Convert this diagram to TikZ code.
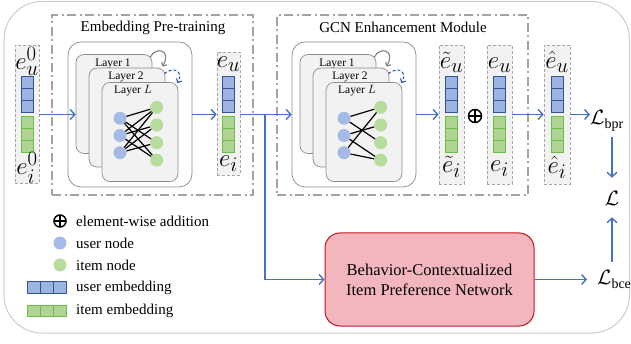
\documentclass[tikz,border=0pt]{standalone}
\usepackage{amsmath}
\usepackage{fontspec}
\setmainfont{Liberation Serif}
\usetikzlibrary{arrows.meta}
\definecolor{ablue}{HTML}{4472C4}
\definecolor{dblue}{HTML}{2F5DB4}
\definecolor{sqbf}{HTML}{9DB4E2}
\definecolor{sqbd}{HTML}{2F5597}
\definecolor{sqgf}{HTML}{AFD494}
\definecolor{sqgd}{HTML}{6CBF45}
\definecolor{unodef}{HTML}{A3BBE6}
\definecolor{inodef}{HTML}{B6DC9E}
\definecolor{colfill}{HTML}{F2F2F2}
\definecolor{colline}{HTML}{A6A6A6}
\definecolor{modline}{HTML}{A3A3A3}
\definecolor{cardline}{HTML}{8C8C8C}
\definecolor{frameline}{HTML}{CCCCCC}
\definecolor{pinkf}{HTML}{F4B6BE}
\definecolor{redd}{HTML}{C0141E}
\newcommand\te{e}
\newcommand\tu{u}
\newcommand\tii{i}
\newcommand\elab[1]{\fontsize{28}{28}\selectfont$#1$}
\newcommand\lfont{\fontsize{20}{20}\selectfont}
\tikzset{
  sqb/.style={draw=sqbd, fill=sqbf, line width=1pt, minimum width=12pt, minimum height=12.3pt, inner sep=0pt, outer sep=0pt},
  sqg/.style={draw=sqgd, fill=sqgf, line width=1pt, minimum width=12pt, minimum height=12.3pt, inner sep=0pt, outer sep=0pt},
  col/.style={draw=colline, fill=colfill, line width=0.7pt, dash pattern=on 3pt off 2pt, inner sep=0pt},
  modbox/.style={draw=modline, line width=1.8pt, dash pattern=on 9pt off 3.5pt on 2pt off 3.5pt, inner sep=0pt},
  card/.style={draw=cardline, fill=colfill, line width=0.7pt, rounded corners=8pt, minimum width=76pt, minimum height=99pt, inner sep=0pt},
  lbox/.style={draw=cardline, fill=white, line width=0.7pt, rounded corners=13pt, minimum width=124pt, minimum height=145pt, inner sep=0pt},
  ltext/.style={inner sep=0pt, font=\fontsize{11.5}{12}\selectfont},
  unode/.style={circle, fill=unodef, minimum size=13pt, inner sep=0pt},
  inode/.style={circle, fill=inodef, minimum size=13pt, inner sep=0pt},
  edge/.style={black, line width=1.2pt},
  arr/.style={ablue, line width=1.4pt, -{Straight Barb[length=4.5pt,width=10pt,line width=1.4pt]}},
  garr/.style={draw=gray, line width=1.1pt, -{Straight Barb[length=3pt,width=6pt,line width=1.1pt]}},
  darr/.style={draw=dblue, line width=1.1pt, dash pattern=on 3pt off 2pt, -{Straight Barb[length=3pt,width=6pt,line width=1.1pt]}},
  oplus/.style={circle, draw=black, line width=1.5pt, minimum size=12pt, inner sep=0pt,
    path picture={\draw[line width=1.5pt] (path picture bounding box.north) -- (path picture bounding box.south)
      (path picture bounding box.west) -- (path picture bounding box.east);}},
  txt/.style={inner sep=0pt, anchor=west},
  netbox/.style={draw=redd, fill=pinkf, line width=1pt, rounded corners=15pt, align=center, inner sep=0pt,
    font=\fontsize{16.5}{20}\selectfont},
  framebox/.style={draw=frameline, line width=1pt, rounded corners=38pt, inner sep=0pt}
}
\newcommand\embcol[2]{%
  \foreach \k/\yy in {1/82.2,2/94.5,3/106.8} {\node[sqb] (#1b\k) at (#2,\yy) {};}
  \foreach \k/\yy in {1/122.2,2/134.5,3/146.8} {\node[sqg] (#1g\k) at (#2,\yy) {};}
}
\newcommand\layerblock[3]{%
  \begin{scope}[xshift=#2]
    \node[lbox] (#1box) at (130,114.5) {};
    \node[card] (#1c1) at (114,104) {};
    \node[ltext] (#1t1) at (113,63.5) {Layer 1};
    \node[card] (#1c2) at (127,117.5) {};
    \node[ltext] (#1t2) at (126,77) {Layer 2};
    \node[card] (#1c3) at (140,132) {};
    \node[ltext] (#1t3) at (133,91) {Layer $L$};
    \foreach \k/\yy in {1/118.3,2/135.5,3/152.7} {\node[unode] (#1u\k) at (120,\yy) {};}
    \foreach \k/\yy in {1/107.3,2/125,3/142.7,4/160.2} {\node[inode] (#1v\k) at (156.7,\yy) {};}
    \foreach \a/\b in {#3} {\draw[edge] (#1u\a) -- (#1v\b);}
    \draw[garr] ([shift={(-2,3)}]#1c1.north east) .. controls +(5,-11) and +(10,-17) .. ([shift={(-3,-1)}]#1c2.north east);
    \draw[darr] ([shift={(-1,6)}]#1c2.north east) .. controls +(8,-7) and +(7,-13) .. ([shift={(-1,1)}]#1c3.north east);
  \end{scope}}
\begin{document}
\begin{tikzpicture}[x=1pt,y=-1pt,font=\fontsize{15}{18}\selectfont]
\useasboundingbox (0,0) rectangle (631,344);
\node[framebox, minimum width=625.5pt, minimum height=331.5pt] (frame) at (316.75,167.25) {};
% modules
\node[modbox, minimum width=201pt, minimum height=180pt] (pre) at (152.5,105) {};
\node[modbox, minimum width=251pt, minimum height=180pt] (gcn) at (402.5,105) {};
\node[inner sep=0pt] (pret) at (153,27.5) {Embedding Pre-training};
\node[inner sep=0pt] (gcnt) at (403,27.5) {GCN Enhancement Module};
% columns
\node[col, minimum width=24pt, minimum height=138pt] (c0) at (27,114) {};
\embcol{c0}{27}
\node[inner sep=0pt] (c0u) at (27,61) {\elab{\te^{0}_{\tu}}};
\node[inner sep=0pt] (c0i) at (27,168) {\elab{\te^{0}_{\tii}}};
\node[col, minimum width=23pt, minimum height=123pt] (c1) at (228.5,113.5) {};
\embcol{c1}{228.5}
\node[inner sep=0pt] (c1u) at (228.5,64) {\elab{\te_{\tu}}};
\node[inner sep=0pt] (c1i) at (228.5,164) {\elab{\te_{\tii}}};
\node[col, minimum width=25pt, minimum height=139pt] (c2) at (451.5,114.5) {};
\embcol{c2}{451.5}
\node[inner sep=0pt] (c2u) at (451.5,62) {\elab{\tilde{\te}_{\tu}}};
\node[inner sep=0pt] (c2i) at (451.5,167) {\elab{\tilde{\te}_{\tii}}};
\node[col, minimum width=25pt, minimum height=139pt] (c3) at (499.5,114.5) {};
\embcol{c3}{499.5}
\node[inner sep=0pt] (c3u) at (499.5,65) {\elab{\te_{\tu}}};
\node[inner sep=0pt] (c3i) at (499.5,169) {\elab{\te_{\tii}}};
\node[col, minimum width=26pt, minimum height=139pt] (c4) at (557,114.5) {};
\embcol{c4}{557}
\node[inner sep=0pt] (c4u) at (557,62) {\elab{\hat{\te}_{\tu}}};
\node[inner sep=0pt] (c4i) at (557,167) {\elab{\hat{\te}_{\tii}}};
\node[oplus, minimum size=13pt] (plus) at (475,116) {};
% layer blocks
\layerblock{A}{0}{1/1,1/3,1/4,2/1,2/2,2/4,3/1,3/2,3/3}
\layerblock{B}{224}{1/1,1/3,2/2,2/4,3/1,3/4}
% losses
\node[anchor=base west, inner sep=0pt] (Lbpr) at (590,125) {\lfont$\mathcal{L}_{\mathrm{bpr}}$};
\node[inner sep=0pt] (L) at (612,198) {\lfont$\mathcal{L}$};
\node[anchor=base west, inner sep=0pt] (Lbce) at (597,285) {\lfont$\mathcal{L}_{\mathrm{bce}}$};
% network
\node[netbox, minimum width=209pt, minimum height=93pt] (net) at (429.5,279.5) {Behavior-Contextualized\\Item Preference Network};
% arrows
\draw[arr] (c0.east |- 0,114.5) -- (Ac1.west |- 0,114.5);
\draw[arr] (Abox.east) -- (c1.west |- Abox.east);
\draw[arr] (c1.east |- Abox.east) -- (Bbox.west);
\coordinate (br) at (265,114.5);
\draw[arr] (br) |- (net.west);
\draw[arr] (Bbox.east) -- (c2.west |- Bbox.east);
\draw[arr] (c3.east |- 0,114.5) -- (c4.west |- 0,114.5);
\draw[arr] (c4.east |- 0,114.5) -- (Lbpr.west |- 0,114.5);
\draw[arr, shorten <=6pt, shorten >=13pt] (L.north |- Lbpr.south) -- (L.north);
\draw[arr, shorten <=9pt, shorten >=12pt] (L.south |- Lbce.north) -- (L.south);
\draw[arr, shorten >=10pt] (net.east) -- (net.east -| Lbce.west);
% legend
\node[oplus] (lgop) at (60,221) {};
\node[txt] (lgopt) at (76,221) {element-wise addition};
\node[unode] (lgu) at (60,243) {};
\node[txt] (lgut) at (76,243) {user node};
\node[inode] (lgi) at (60,265) {};
\node[txt] (lgit) at (76,265) {item node};
\foreach \k/\xx in {1/34.3,2/47,3/59.7} {\node[sqb, minimum width=12.7pt, minimum height=11.5pt] (lgb\k) at (\xx,287.5) {};}
\node[txt] (lgbt) at (76,287.5) {user embedding};
\foreach \k/\xx in {1/34.3,2/47,3/59.7} {\node[sqg, minimum width=12.7pt, minimum height=11.5pt] (lgg\k) at (\xx,311) {};}
\node[txt] (lggt) at (76,311) {item embedding};
\end{tikzpicture}
\end{document}
